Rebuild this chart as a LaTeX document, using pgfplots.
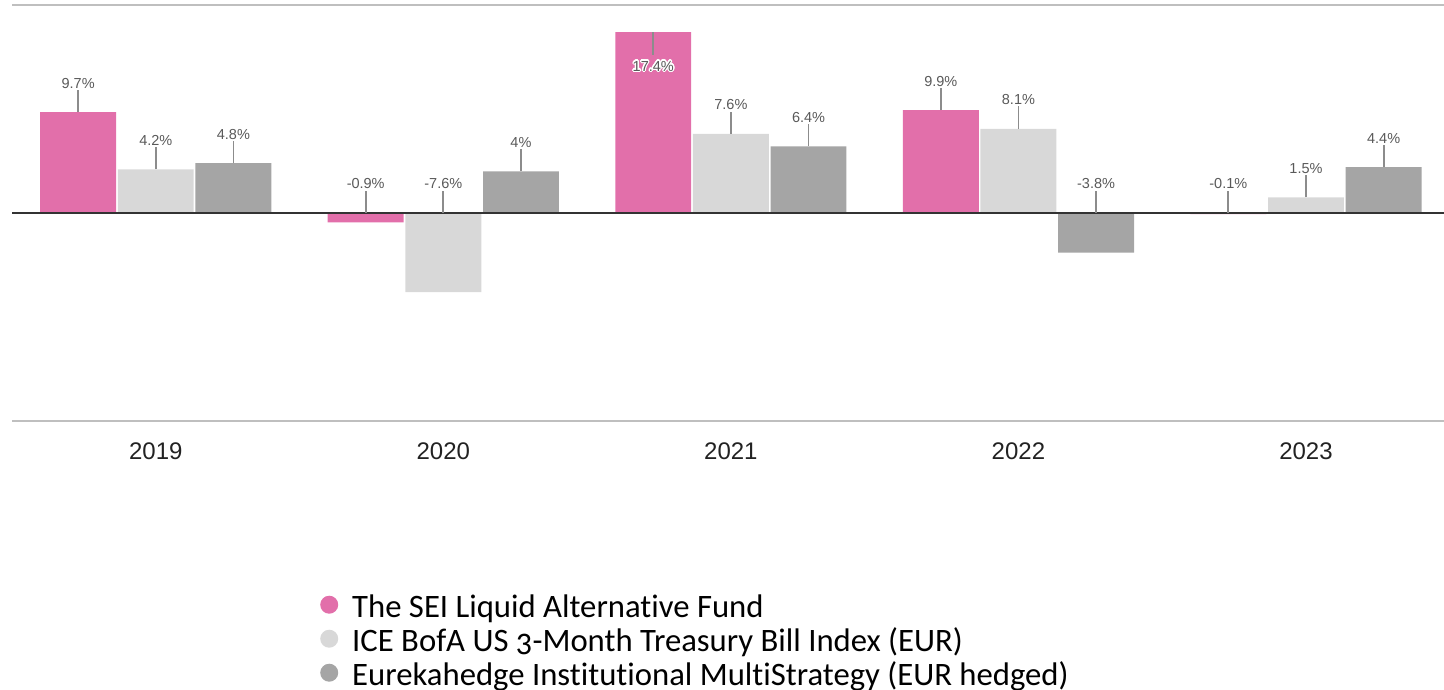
\documentclass[border=0pt]{standalone}
\usepackage{fontspec}
\setmainfont{Liberation Sans}
\newfontfamily\legendfont{Carlito}[Numbers=OldStyle, Ligatures={NoCommon}]
\usepackage{pgfplots}
\pgfplotsset{compat=1.18}
\usepackage{pgfplotstable}
\usepackage{contour}
\contourlength{1.3pt}
\definecolor{pinkc}{HTML}{E26FAA}
\definecolor{lightc}{HTML}{D8D8D8}
\definecolor{darkc}{HTML}{A5A5A5}
\definecolor{lblc}{HTML}{595959}
\definecolor{linec}{HTML}{8C8C8C}
\definecolor{framec}{HTML}{BFBFBF}
\definecolor{zeroc}{HTML}{333333}
\definecolor{catc}{HTML}{222222}
\newcommand\lblfont{\fontsize{14.5}{17}\selectfont}

\pgfplotstableread{
x v
0 9.7
1 -0.9
2 17.4
3 9.9
4 -0.1
}\seriesA
\pgfplotstableread{
x v
0 4.2
1 -7.6
2 7.6
3 8.1
4 1.5
}\seriesB
\pgfplotstableread{
x v
0 4.8
1 4
2 6.4
3 -3.8
4 4.4
}\seriesC

\pgfplotsset{
  lbl/.style={draw=none, mark=none, forget plot,
    point meta=explicit symbolic,
    nodes near coords={\pgfplotspointmeta\%},
    every node near coord/.append style={anchor=base, inner sep=0pt, yshift=24pt, font=\lblfont, text=lblc},
    error bars/y dir=plus, error bars/y fixed=2.15, error bars/error mark=none,
    error bars/error bar style={draw=linec, line width=1.8pt}},
}

\begin{document}
\begin{tikzpicture}
\useasboundingbox (0,0) rectangle (1444pt,690pt);
\begin{axis}[
  at={(12pt,269pt)}, anchor=south west,
  scale only axis, width=1432pt, height=416pt,
  xmin=-0.5, xmax=4.48, ymin=-20, ymax=20,
  axis x line=box, axis y line=none,
  x axis line style={draw=framec, line width=1.6pt},
  ytick=\empty,
  xtick={0,1,2,3,4},
  xticklabels={2019,2020,2021,2022,2023},
  major tick length=0pt,
  xticklabel style={anchor=base, inner sep=0pt, yshift=-39pt, font=\fontsize{24}{28}\selectfont, text=catc},
  clip=false,
  legend style={at={(axis description cs:0.2151,-0.4135)}, anchor=north west,
    draw=none, fill=none, font=\legendfont\fontsize{32.7}{33}\selectfont,
    row sep=1pt, inner sep=0pt,
    nodes={inner sep=0pt, text height=24pt, text depth=9pt},
    /tikz/every odd column/.append style={column sep=14pt}},
  legend cell align=left,
]
\addplot[ybar, bar width=0.264, bar shift=0pt, fill=pinkc, draw=none,
  legend image code/.code={\fill[pinkc] (0pt,5pt) circle (9pt);}]
  table[x expr=\thisrow{x}-0.27, y=v]{\seriesA};
\addlegendentry{The SEI Liquid Alternative Fund}
\addplot[ybar, bar width=0.264, bar shift=0pt, fill=lightc, draw=none,
  legend image code/.code={\fill[lightc] (0pt,5pt) circle (9pt);}]
  table[x=x, y=v]{\seriesB};
\addlegendentry{ICE BofA US 3-Month Treasury Bill Index (EUR)}
\addplot[ybar, bar width=0.264, bar shift=0pt, fill=darkc, draw=none,
  legend image code/.code={\fill[darkc] (0pt,5pt) circle (9pt);}]
  table[x expr=\thisrow{x}+0.27, y=v]{\seriesC};
\addlegendentry{Eurekahedge Institutional MultiStrategy (EUR hedged)}

\addplot[zeroc, line width=1.8pt, forget plot] coordinates {(-0.5,0) (4.48,0)};

\addplot[lbl, skip coords between index={2}{3}]
  table[x expr=\thisrow{x}-0.27, y expr={max(\thisrow{v},0)}, meta=v]{\seriesA};
\addplot[lbl]
  table[x=x, y expr={max(\thisrow{v},0)}, meta=v]{\seriesB};
\addplot[lbl]
  table[x expr=\thisrow{x}+0.27, y expr={max(\thisrow{v},0)}, meta=v]{\seriesC};

\addplot[draw=none, mark=none, forget plot,
    point meta=explicit symbolic,
    nodes near coords={\contour{white}{\pgfplotspointmeta\%}},
    every node near coord/.append style={anchor=base, inner sep=0pt, yshift=-39pt, font=\lblfont, text=lblc},
    error bars/y dir=minus, error bars/y fixed=2.2, error bars/error mark=none,
    error bars/error bar style={draw=linec, line width=1.8pt}]
  coordinates {(1.73,17.4) [17.4]};
\end{axis}
\end{tikzpicture}
\end{document}
